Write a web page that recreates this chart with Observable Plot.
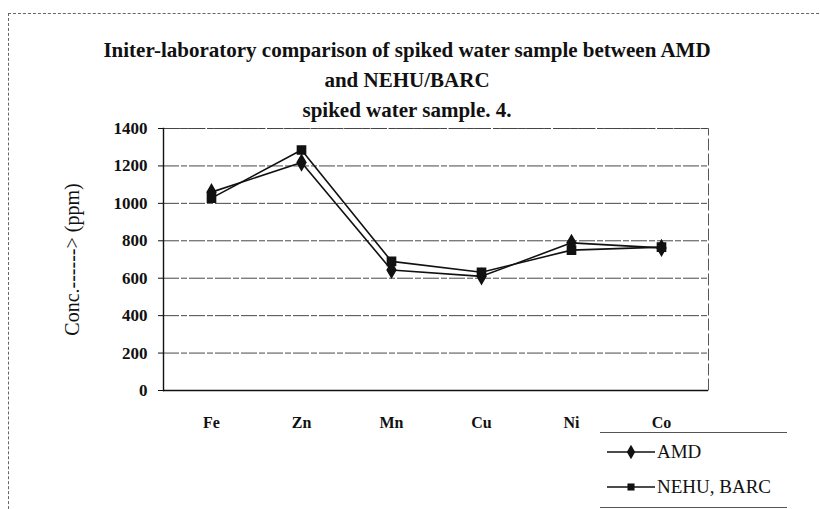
<!DOCTYPE html>
<html>
<head>
<meta charset="utf-8">
<script src="https://cdn.jsdelivr.net/npm/d3@7"></script>
<script src="https://cdn.jsdelivr.net/npm/@observablehq/plot@0.6"></script>
<style>
  html, body { margin: 0; padding: 0; background: #fff; }
  #frame { position: relative; width: 820px; height: 509px; overflow: hidden; font-family: "Liberation Serif", "DejaVu Serif", serif; color: #111; }
  #border { position: absolute; left: 8px; top: 13px; width: 830px; height: 520px; border-top: 1px dashed #666; border-left: 1px dashed #666; }
  #title { height: 118px; box-sizing: border-box; padding-top: 35px; width: 814px; text-align: center; font-weight: bold; font-size: 21px; line-height: 30px; color: #111; }
  #legend { position: absolute; left: 600px; top: 432px; width: 187px; height: 74px; border-top: 1px solid #555; border-bottom: 1px solid #555; font-size: 19px; }
  .row { position: absolute; left: 7px; display: flex; align-items: center; }
  .row span { margin-left: 2px; }
  svg.plot { display: block; }
</style>
</head>
<body>
<div id="frame">
  <div id="border"></div>
  <div id="title"></div>
  <div id="chart"></div>
  <div id="legend"></div>
</div>
<script>
const titleLines = [
  "Initer-laboratory comparison of spiked water sample between AMD",
  "and NEHU/BARC",
  "spiked water sample. 4."
];
const yLabel = "Conc.------> (ppm)";
const elements = ["Fe", "Zn", "Mn", "Cu", "Ni", "Co"];
const amdValues = [1060, 1218, 644, 610, 789, 762];
const nehuValues = [1028, 1285, 690, 632, 750, 766];
const yTicks = [0, 200, 400, 600, 800, 1000, 1200, 1400];
const seriesNames = ["AMD", "NEHU, BARC"];
const seriesSymbols = ["diamond", "square"];

document.getElementById("title").innerHTML = titleLines.map(t => `<div>${t}</div>`).join("");

const data = [];
elements.forEach((el, i) => {
  data.push({element: el, value: amdValues[i], series: seriesNames[0]});
  data.push({element: el, value: nehuValues[i], series: seriesNames[1]});
});

const font = "Liberation Serif, DejaVu Serif, serif";

const chart = Plot.plot({
  width: 820,
  height: 391,
  marginTop: 10,
  marginLeft: 163,
  marginRight: 112,
  marginBottom: 119,
  style: {fontFamily: font, color: "#111", background: "transparent"},
  x: {type: "point", domain: elements, padding: 0.5, label: null},
  y: {domain: [0, 1400], label: null},
  symbol: {domain: seriesNames, range: seriesSymbols},
  marks: [
    Plot.ruleY(yTicks.filter(d => d > 0), {stroke: "#333", strokeWidth: 0.9, strokeDasharray: "16,2,6,2"}),
    Plot.frame({stroke: "#444", strokeWidth: 0.9, strokeDasharray: "12,3"}),
    Plot.ruleY([0], {stroke: "#111", strokeWidth: 1.6}),
    Plot.frame({anchor: "left", stroke: "#111", strokeWidth: 1.4}),
    Plot.axisY({ticks: yTicks, tickSize: 5, tickPadding: 11, fontSize: 17, fontWeight: "bold", tickFormat: d => String(d), stroke: "#111", label: null}),
    Plot.axisX({tickSize: 0, tickPadding: 26, fontSize: 16, fontWeight: "bold", label: null}),
    Plot.text([yLabel], {frameAnchor: "left", textAnchor: "middle", rotate: -90, dx: -91, fontSize: 20, fill: "#111"}),
    Plot.line(data, {x: "element", y: "value", z: "series", stroke: "#111", strokeWidth: 1.6}),
    Plot.dot(data, {x: "element", y: "value", symbol: "series", fill: "#111", stroke: "#111", r: 4.6})
  ]
});
document.getElementById("chart").appendChild(chart);

// Legend
const legend = document.getElementById("legend");
const rowTops = [8, 43];
seriesNames.forEach((name, i) => {
  const sym = d3.symbol(seriesSymbols[i] === "diamond" ? d3.symbolDiamond : d3.symbolSquare, seriesSymbols[i] === "diamond" ? 60 : 50)();
  const row = document.createElement("div");
  row.className = "row";
  row.style.top = rowTops[i] + "px";
  row.innerHTML = `<svg width="48" height="20"><line x1="0" x2="48" y1="10" y2="10" stroke="#111" stroke-width="1.6"/><path d="${sym}" transform="translate(24,10)" fill="#111"/></svg><span>${name}</span>`;
  legend.appendChild(row);
});
</script>
</body>
</html>
